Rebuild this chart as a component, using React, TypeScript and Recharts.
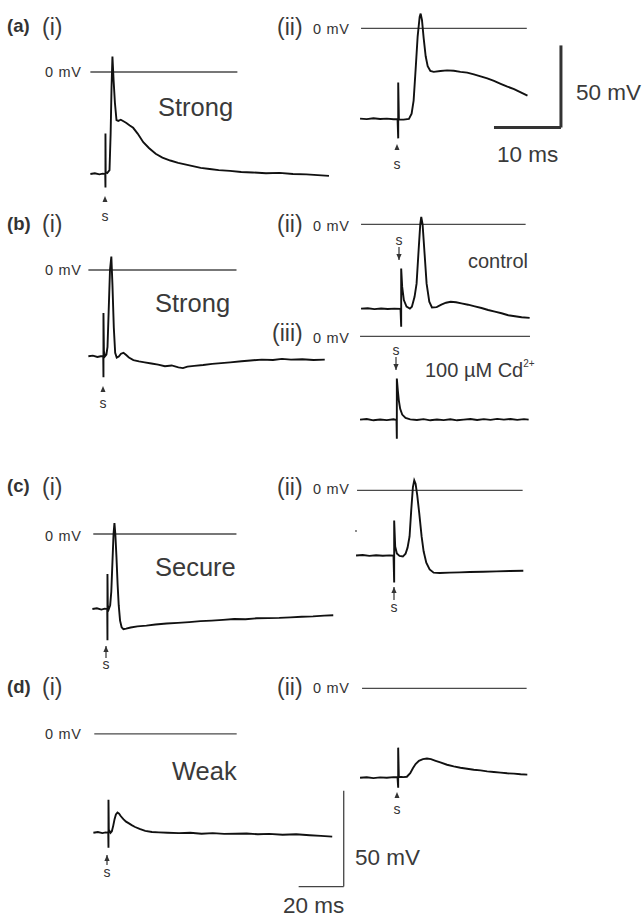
import { LineChart, Line, XAxis, YAxis, ReferenceLine } from 'recharts';

type Pt = [number, number];

// recordings, [ms, mV]
const aStrong: Pt[] = [
  [0, -53], [2, -52.6], [4, -53.2], [5.5, -52.8], [6.6, -53], [6.7, -60], [6.7, -32], [6.8, -52],
  [7.5, -52.5], [8.5, -51], [9.0, -32], [9.4, -8], [9.8, 8], [10.3, -4], [10.9, -16], [11.6, -25],
  [12.4, -25.4], [13.5, -24.8], [14.7, -25.6], [16, -26.5], [17.5, -27.8], [19, -29], [21, -32],
  [23.5, -36.5], [26, -39.5], [29, -42.5], [32, -44.5], [35.5, -46], [39, -47.2], [42, -48],
  [45, -48.8], [49, -49.8], [53, -50.4], [57, -51], [62, -51.4], [67, -52], [72, -52.2],
  [78, -52.6], [84, -52.4], [90, -53], [96, -53.2], [101, -53.6], [106, -54],
];

const aStrongFast: Pt[] = [
  [0, -55], [1, -55.3], [2, -54.8], [3, -55.2], [4, -55], [5, -55.4], [5.6, -55.2], [5.7, -67],
  [5.7, -33], [5.8, -55.5], [6.5, -55.6], [7.3, -55.2], [7.7, -52], [8.0, -44], [8.3, -25],
  [8.6, -5], [8.9, 7], [9.05, 9], [9.25, 5], [9.5, -6], [9.8, -17], [10.1, -23], [10.5, -26],
  [11, -26.5], [12, -26], [13, -25.6], [14, -25.8], [15, -26.5], [16, -27], [17, -28],
  [18, -29.2], [19, -30.5], [20, -32], [21, -33.8], [22, -35.5], [23, -37], [24, -39], [25, -41],
];

const bStrong: Pt[] = [
  [0, -44.8], [2, -44.5], [4, -45.2], [5.5, -44.8], [6.6, -44.8], [6.7, -55.7], [6.7, -22.4],
  [6.9, -42], [7.3, -45], [8.0, -44], [8.5, -40], [9.0, -22], [9.6, 0], [10.2, 7], [10.7, -8],
  [11.3, -30], [11.9, -43], [12.6, -45.5], [13.5, -45], [14.5, -43.5], [15.6, -43], [16.8, -44.2],
  [18, -45.5], [20, -46.8], [22.5, -47.5], [25, -48], [28, -48.6], [31, -49.2], [34, -50],
  [37, -49.6], [40, -50.6], [42, -51], [44, -50.2], [47, -49.8], [51, -49.4], [55, -48.8],
  [59, -48.4], [63, -48], [68, -47.4], [72, -47], [77, -46.6], [82, -46.8], [86, -46.2],
  [90, -46.6], [95, -46.4], [100, -46.8], [105, -46.6],
];

const bControl: Pt[] = [
  [0, -51.2], [1, -51], [2, -51.5], [3, -51.1], [4, -51.4], [5, -51.2], [5.9, -51.3], [6.0, -62.2],
  [6.0, -26.8], [6.15, -38], [6.4, -46], [6.8, -50], [7.3, -51.2], [7.6, -50], [8.0, -44],
  [8.3, -36], [8.6, -16], [8.85, 0], [9.0, 4.5], [9.2, 0], [9.5, -18], [9.8, -36], [10.2, -47],
  [10.6, -50.5], [11.3, -50.3], [12, -48.8], [12.7, -47.6], [13.4, -47], [14.2, -47.3], [15, -48],
  [16, -48.8], [17, -49.8], [18, -50.8], [19, -52], [20, -53], [21, -54], [22, -55.2],
  [23, -55.8], [24, -56.4], [25.2, -56.8],
];

const bCadmium: Pt[] = [
  [0, -50.6], [1, -50.2], [2, -51], [3, -50.5], [4, -50.9], [5, -50.4], [5.45, -50.8], [5.5, -62.2],
  [5.5, -25.6], [5.65, -33], [5.8, -39], [6.0, -44], [6.3, -47.5], [6.8, -49.5], [7.5, -50.4],
  [8.5, -50.8], [9.5, -50.3], [10.5, -51], [11.5, -50.5], [12.5, -50.9], [13.5, -50.4],
  [14.5, -51], [15.5, -50.6], [16.5, -50.2], [17.5, -50.8], [18.5, -50.3], [19.5, -50.7],
  [20.5, -50.1], [21.5, -50.6], [22.5, -50.2], [23.5, -50.7], [24.5, -50.3], [25.2, -50.6],
];

const cSecure: Pt[] = [
  [0, -39], [2, -38.6], [4, -39.3], [5.5, -38.8], [6.6, -39], [6.7, -55.2], [6.7, -20.8],
  [6.85, -37], [7.3, -39], [7.9, -37], [8.4, -30], [8.9, -15], [9.4, 0], [9.8, 5.7], [10.2, 0],
  [10.7, -12], [11.2, -26], [11.7, -37], [12.3, -45], [13, -48.5], [13.8, -49.5], [15, -49.2],
  [17, -48.6], [20, -48], [24, -47.6], [28, -47], [33, -46.5], [38, -46.2], [43, -45.8],
  [48, -45.3], [53, -45], [58, -44.6], [63, -44.2], [68, -44.3], [73, -43.8], [78, -43.7],
  [83, -43.6], [88, -43.3], [93, -43], [98, -42.8], [103, -42.4], [107, -42.2],
];

const cSecureFast: Pt[] = [
  [0, -39.6], [1, -39.3], [2, -39.8], [3, -39.4], [4, -39.7], [5, -39.5], [5.6, -39.6], [5.7, -56],
  [5.7, -18.3], [5.85, -34], [6.1, -38.4], [6.5, -39.8], [7, -40.2], [7.4, -38.5], [7.7, -34.8],
  [8.0, -28], [8.25, -12], [8.5, 2], [8.7, 6.1], [8.9, 4], [9.15, -3], [9.45, -14], [9.8, -28],
  [10.1, -37], [10.5, -44], [11, -48], [11.6, -50], [12.5, -50.2], [14, -50], [15.5, -49.8],
  [17, -49.6], [19, -49.4], [21, -49.2], [23, -49], [25, -48.8],
];

const dWeak: Pt[] = [
  [0, -51.6], [2, -51.2], [4, -51.8], [5.5, -51.4], [6.6, -51.6], [6.7, -59.4], [6.7, -34.4],
  [6.85, -50], [7.6, -51.6], [8.2, -50.8], [8.8, -48], [9.4, -44.5], [10, -42], [10.7, -41],
  [11.4, -41.6], [12.2, -43], [13.3, -44.5], [14.5, -45.8], [15.6, -46.6], [17, -47.6],
  [18.5, -48.6], [20.5, -49.6], [23, -50.6], [26, -51.2], [29, -51.4], [33, -51.6], [38, -51.8],
  [43, -51.6], [48, -52.1], [53, -51.8], [58, -52.2], [63, -52.1], [68, -52], [73, -52.4],
  [78, -52.2], [84, -52.6], [90, -52.4], [96, -52.9], [101, -53.2], [106, -53.6],
];

const dWeakFast: Pt[] = [
  [0, -54.3], [1, -54], [2, -54.5], [3, -54.1], [4, -54.3], [5, -53.9], [5.6, -54], [5.7, -60.4],
  [5.7, -36], [5.8, -53.7], [6.5, -53.9], [7, -53.7], [7.5, -51.5], [7.9, -48.5], [8.3, -46],
  [8.8, -44], [9.4, -43], [10, -42.6], [10.6, -43], [11.3, -44], [12, -45], [13, -46.4],
  [14, -47.4], [15, -48.2], [16, -48.8], [17, -49.4], [18, -49.8], [19, -50.4], [20, -50.8],
  [21, -51.2], [22, -51.6], [23, -51.8], [24, -52.2], [25, -52.4],
];

// scale bars: [ms, mV]
const fastBar = [10, 50];
const slowBar = [20, 50];

const LEFT = { pxMs: 2.25, pxMv: 1.92, tMax: 110 };
const RIGHT = { pxMs: 6.7, pxMv: 1.64, tMax: 26 };
const FONT = "'Liberation Sans', Arial, Helvetica, sans-serif";

interface Bar { t: number; v: number; size: number[]; width: number; color: string }

interface PanelProps {
  pts: Pt[];
  col: { pxMs: number; pxMv: number; tMax: number };
  x0: number;
  y0: number;
  zero: [number, number];
  tMax?: number;
  vMin?: number;
  bar?: Bar;
}

function TracePanel({ pts, col, x0, y0, zero, tMax, vMin = -66, bar }: PanelProps) {
  const tMin = -1.5;
  const vMax = 13;
  const tm = tMax ?? col.tMax;
  const data = pts.map(([t, v]) => ({ t, v }));
  const width = Math.round((tm - tMin) * col.pxMs);
  const height = Math.round((vMax - vMin) * col.pxMv);
  return (
    <div style={{ position: 'absolute', left: x0 + tMin * col.pxMs, top: y0 - vMax * col.pxMv }}>
      <LineChart width={width} height={height} data={data} margin={{ top: 0, right: 0, bottom: 0, left: 0 }}>
        <XAxis type="number" dataKey="t" domain={[tMin, tm]} hide />
        <YAxis type="number" domain={[vMin, vMax]} hide />
        <ReferenceLine
          segment={[{ x: zero[0], y: 0 }, { x: zero[1], y: 0 }]}
          stroke="#4a4a4a"
          strokeWidth={1.3}
        />
        {bar && (
          <ReferenceLine
            segment={[{ x: bar.t - bar.size[0], y: bar.v }, { x: bar.t, y: bar.v }]}
            stroke={bar.color}
            strokeWidth={bar.width}
          />
        )}
        {bar && (
          <ReferenceLine
            segment={[{ x: bar.t, y: bar.v }, { x: bar.t, y: bar.v + bar.size[1] }]}
            stroke={bar.color}
            strokeWidth={bar.width}
          />
        )}
        <Line
          type="linear"
          dataKey="v"
          stroke="#111"
          strokeWidth={1.9}
          dot={false}
          isAnimationActive={false}
        />
      </LineChart>
    </div>
  );
}

function Arrow({ x, y1, y2, head }: { x: number; y1: number; y2: number; head: 'up' | 'down' }) {
  const tip = head === 'up' ? Math.min(y1, y2) : Math.max(y1, y2);
  const dir = head === 'up' ? 1 : -1;
  return (
    <g>
      <line x1={x} x2={x} y1={y1} y2={y2} stroke="#333" strokeWidth={1.2} />
      <path d={`M${x - 2.6},${tip + dir * 6} L${x},${tip} L${x + 2.6},${tip + dir * 6} Z`} fill="#333" />
    </g>
  );
}

function Tri({ x, y }: { x: number; y: number }) {
  return <path d={`M${x - 2.5},${y + 6} L${x},${y} L${x + 2.5},${y + 6} Z`} fill="#333" />;
}

function Annotations() {
  const s = (x: number, y: number) => (
    <text x={x} y={y} textAnchor="middle" fontSize={14} fill="#333">s</text>
  );
  const big = { fontSize: 23, fill: '#3a3a3a' };
  const word = { fontSize: 25.5, fill: '#3a3a3a' };
  const zeroTxt = (x: number, y: number) => (
    <text x={x} y={y} fontSize={14.5} textLength={36} lengthAdjust="spacing" fill="#333">0 mV</text>
  );
  return (
    <svg width={643} height={918} style={{ position: 'absolute', left: 0, top: 0, pointerEvents: 'none', fontFamily: FONT }}>
      {[['(a)', 32], ['(b)', 230], ['(c)', 492], ['(d)', 693]].map(([t, y]) => (
        <text key={t as string} x={7} y={y as number} fontSize={18.5} fontWeight="bold" fill="#333">{t}</text>
      ))}
      {[35, 232, 495, 695].map((y) => (
        <text key={'i' + y} x={42} y={y} {...big}>(i)</text>
      ))}
      {[35, 232, 495, 695].map((y) => (
        <text key={'ii' + y} x={277} y={y} {...big}>(ii)</text>
      ))}
      <text x={272} y={341} {...big}>(iii)</text>

      {zeroTxt(45, 77)}
      {zeroTxt(45, 275)}
      {zeroTxt(45, 541)}
      {zeroTxt(45, 739)}
      {zeroTxt(313, 34)}
      {zeroTxt(313, 231)}
      {zeroTxt(313, 343)}
      {zeroTxt(313, 494)}
      {zeroTxt(313, 693)}

      <text x={158} y={116} {...word}>Strong</text>
      <text x={155} y={312} {...word}>Strong</text>
      <text x={155} y={576} {...word}>Secure</text>
      <text x={172} y={780} {...word}>Weak</text>
      <text x={468} y={268} fontSize={20} fill="#3a3a3a">control</text>
      <text x={425} y={377} fontSize={20} fill="#3a3a3a">
        100 µM Cd<tspan fontSize={10} dy={-10}>2+</tspan>
      </text>

      <text x={576} y={100} fontSize={22.5} fill="#3a3a3a">{`${fastBar[1]} mV`}</text>
      <text x={497} y={162} fontSize={22.5} fill="#3a3a3a">{`${fastBar[0]} ms`}</text>
      <text x={355} y={865} fontSize={22.5} fill="#3a3a3a">{`${slowBar[1]} mV`}</text>
      <text x={283} y={913} fontSize={22.5} fill="#3a3a3a">{`${slowBar[0]} ms`}</text>

      <Tri x={105} y={196} />
      {s(105, 221)}
      <Tri x={397} y={144} />
      {s(397, 169)}
      <Tri x={103} y={386} />
      {s(103, 408)}
      {s(399, 245)}
      <Arrow x={399} y1={247} y2={260} head="down" />
      {s(396, 355)}
      <Arrow x={396} y1={357} y2={370} head="down" />
      <Arrow x={106} y1={646} y2={658} head="up" />
      {s(106, 669)}
      <Arrow x={394} y1={587} y2={600} head="up" />
      {s(394, 612)}
      <Arrow x={107} y1={855} y2={865} head="up" />
      {s(107, 877)}
      <Tri x={397} y={792} />
      {s(397, 814)}
      <circle cx={356} cy={531} r={0.9} fill="#555" />
    </svg>
  );
}

export default function App() {
  return (
    <div style={{ position: 'absolute', left: 0, top: 0, width: 643, height: 918, background: '#fff', fontFamily: FONT }}>
      <TracePanel pts={aStrong} col={LEFT} x0={90} y0={72} zero={[0, 65.3]} />
      <TracePanel
        pts={aStrongFast}
        col={RIGHT}
        x0={360}
        y0={28}
        zero={[0.15, 24.9]}
        tMax={31.5}
        vMin={-68}
        bar={{ t: 30, v: -60.4, size: fastBar, width: 3, color: '#333' }}
      />
      <TracePanel pts={bStrong} col={LEFT} x0={88} y0={270} zero={[0, 65.8]} />
      <TracePanel pts={bControl} col={RIGHT} x0={361} y0={224} zero={[0, 24.6]} />
      <TracePanel pts={bCadmium} col={RIGHT} x0={360} y0={336} zero={[0, 25.4]} />
      <TracePanel pts={cSecure} col={LEFT} x0={92} y0={534} zero={[0.4, 64]} />
      <TracePanel pts={cSecureFast} col={RIGHT} x0={356} y0={490} zero={[0.15, 24.9]} />
      <TracePanel
        pts={dWeak}
        col={LEFT}
        x0={93}
        y0={734}
        zero={[0.4, 63.6]}
        tMax={113}
        vMin={-82}
        bar={{ t: 111.1, v: -79.7, size: slowBar, width: 1.3, color: '#444' }}
      />
      <TracePanel pts={dWeakFast} col={RIGHT} x0={360} y0={688} zero={[0.3, 24.9]} />
      <Annotations />
    </div>
  );
}
